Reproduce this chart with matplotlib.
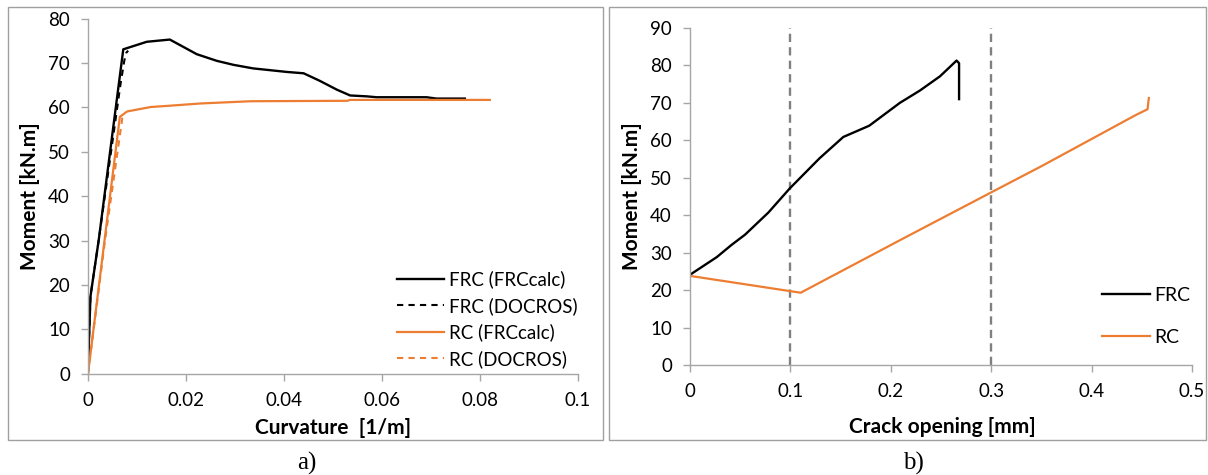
import matplotlib
matplotlib.use("Agg")
import matplotlib.pyplot as plt
from matplotlib.patches import Rectangle

plt.rcParams['font.family'] = ['Lato', 'DejaVu Sans']

# ---- Panel a) Moment vs curvature ----
frc_calc_k = [0.0, 0.0002, 0.0005, 0.0012, 0.0022, 0.0072, 0.0120, 0.0167, 0.0222,
              0.0263, 0.0297, 0.0337, 0.0406, 0.0440, 0.0473, 0.0508, 0.0535, 0.0569,
              0.0589, 0.0691, 0.0711, 0.0769]
frc_calc_m = [0.5, 7.6, 17.4, 22.7, 30.2, 73.1, 74.8, 75.3, 72.0,
              70.5, 69.6, 68.8, 68.0, 67.7, 66.0, 64.0, 62.7, 62.5,
              62.3, 62.3, 62.0, 62.0]
frc_doc_k = [0.0, 0.0002, 0.0005, 0.0012, 0.0022, 0.0066, 0.0074, 0.0078, 0.0082]
frc_doc_m = [0.5, 7.6, 17.4, 22.7, 30.2, 65.0, 70.5, 72.3, 72.8]
rc_calc_k = [0.0, 0.0065, 0.0080, 0.0128, 0.0168, 0.0230, 0.0332, 0.0529,
             0.0535, 0.0820]
rc_calc_m = [0.0, 57.9, 59.1, 60.1, 60.4, 60.9, 61.4, 61.5, 61.7, 61.7]
rc_doc_k = [0.0, 0.0034, 0.0070, 0.0077]
rc_doc_m = [0.0, 29.5, 57.6, 58.4]

# ---- Panel b) Moment vs crack opening ----
frc_w = [0.0, 0.0266, 0.0415, 0.0548, 0.0780, 0.0995, 0.1290, 0.1527, 0.1785, 0.2090,
         0.2290, 0.2490, 0.2655, 0.2680, 0.2680]
frc_m = [24.1, 28.8, 32.1, 34.8, 40.7, 47.2, 55.2, 60.9, 63.9, 70.0,
         73.3, 77.1, 81.3, 80.6, 71.0]
rc_w = [0.0, 0.1102, 0.2110, 0.3000, 0.3494, 0.4443, 0.4557, 0.4570]
rc_m = [23.8, 19.3, 33.6, 46.1, 53.0, 66.8, 68.3, 71.3]
limit_w = [0.1, 0.3]

ORANGE = '#ED7D31'
SPINE = '#A6A6A6'
W, H = 1208, 475
fig = plt.figure(figsize=(W / 100, H / 100), dpi=100)

# panel frames
for x0, x1 in [(8, 603), (609, 1206)]:
    fig.patches.append(Rectangle((x0 / W, 1 - 440 / H), (x1 - x0) / W, (440 - 7) / H,
                                 transform=fig.transFigure, fill=False,
                                 edgecolor='#A0A0A0', linewidth=1.0))

ax1 = fig.add_axes([88 / W, 1 - 373.7 / H, 490 / W, 355 / H])
ax2 = fig.add_axes([690 / W, 1 - 365 / H, 502 / W, 337 / H])

ax1.plot(frc_doc_k, frc_doc_m, color='black', lw=1.5, ls=(0, (3, 2.5)), label='FRC (DOCROS)')
ax1.plot(frc_calc_k, frc_calc_m, color='black', lw=1.7, label='FRC (FRCcalc)')
ax1.plot(rc_doc_k, rc_doc_m, color=ORANGE, lw=1.5, ls=(0, (3, 2.5)), label='RC (DOCROS)')
ax1.plot(rc_calc_k, rc_calc_m, color=ORANGE, lw=1.6, label='RC (FRCcalc)')
ax1.set_xlim(0, 0.1)
ax1.set_ylim(0, 80)
ax1.set_xticks([0, 0.02, 0.04, 0.06, 0.08, 0.1])
ax1.set_xticklabels(['0', '0.02', '0.04', '0.06', '0.08', '0.1'])
ax1.set_yticks(range(0, 81, 10))
ax1.set_xlabel('Curvature  [1/m]', fontsize=15, fontweight='bold', va='center')
ax1.set_ylabel('Moment [kN.m]', fontsize=15, fontweight='bold', va='center')
ax1.xaxis.set_label_coords(0.5, -0.153)
ax1.yaxis.set_label_coords(-0.118, 0.5)
h, l = ax1.get_legend_handles_labels()
order = [1, 0, 3, 2]
ax1.legend([h[i] for i in order], [l[i] for i in order],
           loc='lower left', bbox_to_anchor=(0.63, 0.017), frameon=False, fontsize=13.5,
           handlelength=2.5, handletextpad=0.3, labelspacing=0.45, borderpad=0,
           borderaxespad=0)

for w in limit_w:
    ax2.axvline(w, color='#808080', lw=1.7, ls=(0, (3.5, 2.2)))
ax2.plot(frc_w, frc_m, color='black', lw=1.7, label='FRC')
ax2.plot(rc_w, rc_m, color=ORANGE, lw=1.6, label='RC')
ax2.set_xlim(0, 0.5)
ax2.set_ylim(0, 90)
ax2.set_xticks([0, 0.1, 0.2, 0.3, 0.4, 0.5])
ax2.set_xticklabels(['0', '0.1', '0.2', '0.3', '0.4', '0.5'])
ax2.set_yticks(range(0, 91, 10))
ax2.set_xlabel('Crack opening [mm]', fontsize=15, fontweight='bold', va='center')
ax2.set_ylabel('Moment [kN.m]', fontsize=15, fontweight='bold', va='center')
ax2.xaxis.set_label_coords(0.502, -0.184)
ax2.yaxis.set_label_coords(-0.116, 0.5)
ax2.legend(loc='lower left', bbox_to_anchor=(0.82, 0.057), frameon=False, fontsize=14,
           handlelength=2.5, handletextpad=0.2, labelspacing=1.3, borderpad=0,
           borderaxespad=0)

for ax in (ax1, ax2):
    for s in ('top', 'right'):
        ax.spines[s].set_visible(False)
    for s in ('left', 'bottom'):
        ax.spines[s].set_color(SPINE)
        ax.spines[s].set_linewidth(1.0)
    ax.tick_params(axis='both', direction='out', length=5, width=1.0, color=SPINE,
                   labelsize=13.5, pad=8)
    ax.set_facecolor('none')

fig.text(307 / W, 1 - 463 / H, 'a)', fontsize=18, family=['Liberation Serif'],
         ha='center', va='center')
fig.text(913 / W, 1 - 463 / H, 'b)', fontsize=18, family=['Liberation Serif'],
         ha='center', va='center')

fig.savefig('out.png', dpi=100)
